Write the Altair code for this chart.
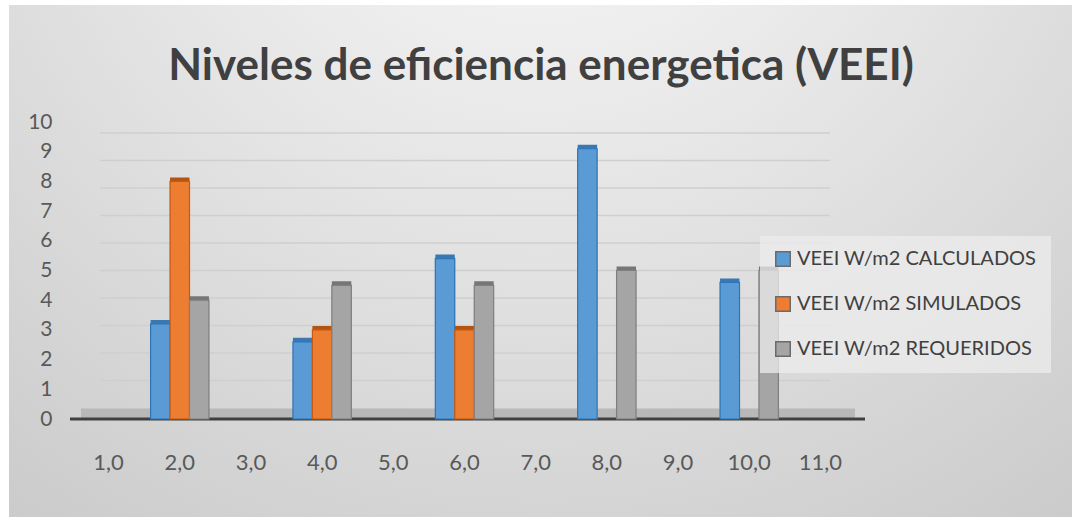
import altair as alt
import pandas as pd

categories = ["1,0", "2,0", "3,0", "4,0", "5,0", "6,0", "7,0", "8,0", "9,0", "10,0", "11,0"]
series = ["VEEI W/m2 CALCULADOS", "VEEI W/m2 SIMULADOS", "VEEI W/m2  REQUERIDOS"]

calc_cats = ["2,0", "4,0", "6,0", "8,0", "10,0"]
calc_vals = [3.2, 2.6, 5.4, 9.1, 4.6]
sim_cats = ["2,0", "4,0", "6,0"]
sim_vals = [8.0, 3.0, 3.0]
req_cats = ["2,0", "4,0", "6,0", "8,0", "10,0"]
req_vals = [4.0, 4.5, 4.5, 5.0, 5.0]

y_ticks = list(range(0, 11))
grid_vals = list(range(1, 11))
title_text = "Niveles de eficiencia energetica (VEEI)"

fill_colors = ["#5b9bd5", "#ed7d31", "#a5a5a5"]
stroke_colors = ["#2e75b6", "#c55a11", "#7f7f7f"]
side_colors = ["#3a78b3", "#b4540f", "#767676"]

rows = []
for c, v in zip(calc_cats, calc_vals):
    rows.append({"cat": c, "serie": series[0], "value": v})
for c, v in zip(sim_cats, sim_vals):
    rows.append({"cat": c, "serie": series[1], "value": v})
for c, v in zip(req_cats, req_vals):
    rows.append({"cat": c, "serie": series[2], "value": v})
df = pd.DataFrame(rows)

W, H = 783, 297
PL, PT = 73, 122

xscale = alt.Scale(domain=categories, paddingInner=0.18, paddingOuter=0.09)
yscale = alt.Scale(domain=[0, 10], nice=False)
# back wall of the 3D chart sits slightly deeper, so its grid is a bit compressed
wallscale = alt.Scale(domain=[-0.4, 10.4], nice=False, zero=False)
offscale = alt.Scale(domain=series)

x_axis = alt.Axis(title=None, labelAngle=0, ticks=False, domain=False, grid=False, zindex=1,
                  labelPadding=33, labelFontSize=22, labelColor="#595959", labelFont="Lato")
y_axis = alt.Axis(title=None, values=y_ticks, ticks=False, domain=False, grid=False, zindex=1,
                  labelPadding=21, labelFontSize=21, labelColor="#595959", labelFont="Lato")

bg = alt.Chart(pd.DataFrame({"a": [0]})).mark_rect(
    fill=alt.RadialGradient(
        gradient="radial",
        stops=[alt.GradientStop(color="#fbfbfb", offset=0),
               alt.GradientStop(color="#e6e6e6", offset=0.45),
               alt.GradientStop(color="#cbcbcb", offset=1)],
        x1=0.5, y1=0.05, x2=0.5, y2=0.05, r1=0, r2=0.85,
    )
).encode(
    x=alt.value(9 - PL), x2=alt.value(1072 - PL),
    y=alt.value(5 - PT), y2=alt.value(517 - PT),
)

title = alt.Chart(pd.DataFrame({"t": [title_text]})).mark_text(
    font="Lato", fontSize=44, fontWeight="bold", color="#404040",
    align="center", baseline="alphabetic"
).encode(
    text="t:N", x=alt.value(541 - PL), y=alt.value(80 - PT),
)

grid = alt.Chart(pd.DataFrame({"g": grid_vals})).mark_rule(
    color="#cfcfcf", strokeWidth=1.5
).encode(
    y=alt.Y("g:Q", scale=wallscale, axis=None),
    x=alt.value(27), x2=alt.value(757),
)

floor = alt.Chart(pd.DataFrame({"g": [0]})).mark_rule(
    color="#b8b8b8", strokeWidth=11, yOffset=-5
).encode(
    y=alt.Y("g:Q", scale=yscale, axis=None),
    x=alt.value(8), x2=alt.value(782),
)

floor_edge = alt.Chart(pd.DataFrame({"g": [0]})).mark_rule(
    color="#404040", strokeWidth=3
).encode(
    y=alt.Y("g:Q", scale=yscale, axis=None),
    x=alt.value(-3), x2=alt.value(792),
)

side = alt.Chart(df).mark_bar(xOffset=9, yOffset=-4).encode(
    x=alt.X("cat:N", scale=xscale, sort=categories, axis=x_axis),
    xOffset=alt.XOffset("serie:N", scale=offscale),
    y=alt.Y("value:Q", scale=yscale, axis=None),
    color=alt.Color("serie:N", scale=alt.Scale(domain=series, range=side_colors), legend=None),
)

leg = alt.Legend(title=None, orient="none", legendX=687, legendY=114,
                 symbolType="square", symbolSize=210, symbolStrokeWidth=1.5,
                 symbolStrokeColor="#6b6b6b",
                 labelFontSize=20, labelFont="Lato", labelColor="#404040", labelLimit=0,
                 rowPadding=23, padding=13, fillColor="rgba(236,236,236,0.75)", labelOffset=4)

front = alt.Chart(df).mark_bar(strokeWidth=1.2, xOffset=4).encode(
    x=alt.X("cat:N", scale=xscale, sort=categories, axis=x_axis),
    xOffset=alt.XOffset("serie:N", scale=offscale),
    y=alt.Y("value:Q", scale=yscale, axis=y_axis),
    color=alt.Color("serie:N", scale=alt.Scale(domain=series, range=fill_colors), legend=leg),
    stroke=alt.Stroke("serie:N", scale=alt.Scale(domain=series, range=stroke_colors), legend=None),
)

chart = alt.layer(bg, title, grid, floor, floor_edge, side, front).resolve_scale(
    color="independent", y="independent"
).properties(
    width=W, height=H,
    padding={"left": PL, "top": PT, "right": 1072 - PL - W, "bottom": 517 - PT - H},
    autosize="none",
    background="white",
).configure_view(stroke=None)

chart.save("out.html", embed_options={"renderer": "svg", "actions": False})
